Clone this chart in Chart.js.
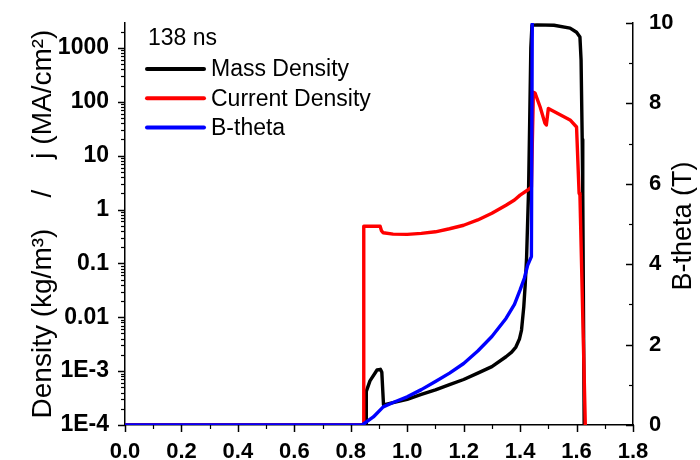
<!DOCTYPE html>
<html>
<head>
<meta charset="utf-8">
<script src="https://cdn.jsdelivr.net/npm/chart.js@4.4.1/dist/chart.umd.min.js"></script>
<style>
  html, body { margin: 0; padding: 0; background: #fff; }
  #wrap { width: 700px; height: 460px; position: relative; }
</style>
</head>
<body>
<div id="wrap"><canvas id="profileChart"></canvas></div>
<script>
// Mass density (kg/m3) - left log axis
const massX = [0, 0.854, 0.855, 0.868, 0.893, 0.905, 0.910, 0.916, 0.95, 1.0, 1.05, 1.1, 1.15, 1.2, 1.25, 1.3, 1.35, 1.37, 1.385, 1.398, 1.405, 1.413, 1.418, 1.423, 1.43, 1.434, 1.438, 1.442, 1.46, 1.52, 1.577, 1.6, 1.612, 1.616, 1.620, 1.622, 1.627];
const massY = [1e-4, 1e-4, 4.2e-4, 6.6e-4, 1.05e-3, 1.08e-3, 9.5e-4, 2.35e-4, 2.6e-4, 3.0e-4, 3.7e-4, 4.5e-4, 5.6e-4, 7.0e-4, 9.2e-4, 1.21e-3, 1.85e-3, 2.25e-3, 2.8e-3, 4.0e-3, 5.8e-3, 0.0156, 0.04, 0.13, 2.3, 45, 1000, 2650, 2680, 2630, 2330, 1950, 1590, 600, 20, 2.0, 1e-4];

// Current density (MA/cm2) - left log axis
const currentX = [0, 0.845, 0.846, 0.904, 0.909, 0.915, 0.95, 1.0, 1.05, 1.1, 1.15, 1.2, 1.25, 1.3, 1.35, 1.38, 1.4, 1.427, 1.44, 1.447, 1.453, 1.471, 1.488, 1.493, 1.5, 1.577, 1.6, 1.609, 1.612, 1.631];
const currentY = [1e-4, 1e-4, 0.49, 0.49, 0.40, 0.37, 0.35, 0.345, 0.36, 0.386, 0.44, 0.51, 0.64, 0.85, 1.2, 1.5, 1.85, 2.3, 2.6, 150, 145, 80, 40, 37, 75, 46, 34, 2.0, 1.85, 1e-4];

// B-theta (T) - right linear axis
const bthetaX = [0, 0.84, 0.88, 0.915, 0.95, 1.0, 1.05, 1.1, 1.15, 1.2, 1.25, 1.3, 1.35, 1.38, 1.4, 1.415, 1.427, 1.44, 1.443];
const bthetaY = [0, 0, 0.2, 0.45, 0.56, 0.70, 0.88, 1.08, 1.29, 1.53, 1.84, 2.20, 2.65, 3.0, 3.36, 3.65, 3.98, 4.19, 10];

const leftTicks = [1e-4, 1e-3, 0.01, 0.1, 1, 10, 100, 1000];
const leftTickLabels = ['1E-4', '1E-3', '0.01', '0.1', '1', '10', '100', '1000'];
const seriesNames = ['Mass Density', 'Current Density', 'B-theta'];
const seriesColors = ['#000000', '#ff0000', '#0000ff'];
const timeLabel = '138 ns';

const FONT = '"Liberation Sans", Arial, sans-serif';
const pts = (xs, ys) => xs.map((x, i) => ({ x: x, y: ys[i] }));

// minor / major tick marks drawn like Origin (right axis ticks point inward)
const axisTicks = {
    id: 'axisTicks',
    beforeDatasetsDraw(chart) {
        const { ctx, chartArea: a, scales } = chart;
        ctx.save();
        ctx.strokeStyle = '#000';
        const seg = (x1, y1, x2, y2, w) => {
            ctx.lineWidth = w;
            ctx.beginPath(); ctx.moveTo(x1, y1); ctx.lineTo(x2, y2); ctx.stroke();
        };
        for (let i = 0; i <= 18; i++) {
            const px = Math.round(scales.x.getPixelForValue(i / 10)) + 0.5;
            const major = i % 2 === 0;
            seg(px, a.bottom, px, a.bottom + (major ? 7 : 4), major ? 1.5 : 1.2);
        }
        for (let e = -4; e <= 3; e++) {
            for (let m = 1; m <= 9; m++) {
                const v = m * Math.pow(10, e);
                if (v > scales.y.max) break;
                const py = Math.round(scales.y.getPixelForValue(v)) + 0.5;
                seg(a.left, py, a.left - (m === 1 ? 7 : 4), py, m === 1 ? 1.5 : 1.2);
            }
        }
        for (let t = 0; t <= 10; t++) {
            const py = Math.round(scales.y2.getPixelForValue(t)) + 0.5;
            const major = t % 2 === 0;
            seg(a.right, py, a.right - (major ? 7 : 4), py, major ? 1.5 : 1.2);
        }
        ctx.restore();
    }
};

// in-plot legend, time stamp and right title (reads bottom to top)
const overlay = {
    id: 'overlay',
    afterDraw(chart) {
        const { ctx } = chart;
        ctx.save();
        ctx.fillStyle = '#000';
        ctx.font = '23px ' + FONT;
        ctx.textAlign = 'left';
        ctx.textBaseline = 'alphabetic';
        ctx.fillText(timeLabel, 148, 45);
        ctx.textBaseline = 'middle';
        seriesNames.forEach((name, i) => {
            const y = 69 + i * 29.3;
            ctx.strokeStyle = seriesColors[i];
            ctx.lineWidth = 4;
            ctx.lineCap = 'round';
            ctx.beginPath(); ctx.moveTo(147, y); ctx.lineTo(204, y); ctx.stroke();
            ctx.fillText(name, 211, y + 1);
        });
        ctx.font = '27px ' + FONT;
        ctx.translate(684, 226);
        ctx.rotate(-Math.PI / 2);
        ctx.textAlign = 'center';
        ctx.fillText('B-theta (T)', 0, 0);
        ctx.restore();
    }
};

const lineStyle = { borderWidth: 3.4, pointRadius: 0, fill: false, tension: 0, borderJoinStyle: 'round' };

new Chart(document.getElementById('profileChart').getContext('2d'), {
    type: 'line',
    data: {
        datasets: [
            { ...lineStyle, label: seriesNames[0], data: pts(massX, massY), borderColor: seriesColors[0], yAxisID: 'y', order: 3 },
            { ...lineStyle, label: seriesNames[1], data: pts(currentX, currentY), borderColor: seriesColors[1], yAxisID: 'y', order: 2 },
            { ...lineStyle, label: seriesNames[2], data: pts(bthetaX, bthetaY), borderColor: seriesColors[2], yAxisID: 'y2', order: 1 }
        ]
    },
    options: {
        responsive: true,
        maintainAspectRatio: false,
        animation: false,
        layout: { padding: { top: 23, left: 0, right: 0, bottom: 0 } },
        plugins: { legend: { display: false }, tooltip: { enabled: false } },
        scales: {
            x: {
                type: 'linear',
                min: 0, max: 1.8,
                grid: { display: false },
                border: { color: '#000', width: 1.5 },
                ticks: {
                    stepSize: 0.2, color: '#000', padding: 6, maxRotation: 0,
                    font: { family: FONT, size: 22, weight: 'bold' },
                    callback: v => v.toFixed(1)
                },
                afterFit: s => { s.height = 35; }
            },
            y: {
                type: 'logarithmic',
                position: 'left',
                min: 1e-4, max: 2900,
                grid: { display: false },
                border: { color: '#000', width: 1.5 },
                afterBuildTicks: s => { s.ticks = leftTicks.map(v => ({ value: v })); },
                ticks: {
                    color: '#000', padding: 8, autoSkip: false,
                    font: { family: FONT, size: 23, weight: 'bold' },
                    callback: (v, i) => leftTickLabels[i]
                },
                title: {
                    display: true,
                    text: 'Density (kg/m\u00b3)    /    j (MA/cm\u00b2)',
                    color: '#000',
                    font: { family: FONT, size: 28 },
                    padding: { top: 26, bottom: 0 }
                },
                afterFit: s => { s.width = 125; }
            },
            y2: {
                type: 'linear',
                position: 'right',
                min: 0, max: 10,
                grid: { display: false },
                border: { color: '#000', width: 1.5 },
                ticks: {
                    stepSize: 2, color: '#000', padding: 8,
                    font: { family: FONT, size: 22, weight: 'bold' }
                },
                afterFit: s => { s.width = 67; }
            }
        }
    },
    plugins: [axisTicks, overlay]
});
</script>
</body>
</html>
